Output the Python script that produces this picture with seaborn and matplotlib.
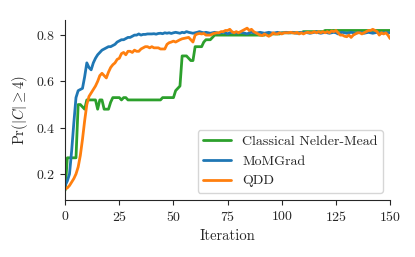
import numpy as np
import pandas as pd
import matplotlib
matplotlib.use('Agg')
import matplotlib.pyplot as plt
import seaborn as sns

iterations = list(range(151))

nelder_mead = (
    [0.13, 0.27, 0.27, 0.27, 0.27, 0.27, 0.50, 0.50, 0.49, 0.48]
    + [0.52, 0.52, 0.52, 0.52, 0.52, 0.48, 0.52, 0.52, 0.48, 0.48]
    + [0.48, 0.51, 0.53, 0.53, 0.53, 0.53, 0.52, 0.53, 0.53, 0.52]
    + [0.52, 0.52, 0.52, 0.52, 0.52, 0.52, 0.52, 0.52, 0.52, 0.52]
    + [0.52, 0.52, 0.52, 0.52, 0.52, 0.53, 0.53, 0.53, 0.53, 0.53]
    + [0.53, 0.56, 0.57, 0.58, 0.71, 0.71, 0.71, 0.70, 0.69, 0.69]
    + [0.75, 0.75, 0.75, 0.75, 0.77, 0.78, 0.78, 0.78, 0.79, 0.80]
    + [0.80, 0.80, 0.80, 0.80, 0.80, 0.80, 0.80, 0.80, 0.80, 0.80]
    + [0.80, 0.80, 0.80, 0.80, 0.80, 0.80, 0.80, 0.80, 0.80, 0.80]
    + [0.80, 0.80, 0.80, 0.805, 0.805, 0.805, 0.805, 0.805, 0.805, 0.805]
    + [0.81, 0.81, 0.81, 0.81, 0.81, 0.81, 0.81, 0.81, 0.81, 0.81]
    + [0.815, 0.815, 0.815, 0.815, 0.815, 0.815, 0.815, 0.815, 0.815, 0.815]
    + [0.82, 0.82, 0.82, 0.82, 0.82, 0.82, 0.82, 0.82, 0.82, 0.82]
    + [0.82, 0.82, 0.82, 0.82, 0.82, 0.82, 0.82, 0.82, 0.82, 0.82]
    + [0.82, 0.82, 0.82, 0.82, 0.82, 0.82, 0.82, 0.82, 0.82, 0.82]
    + [0.82]
)

momgrad = (
    [0.15, 0.17, 0.20, 0.30, 0.42, 0.53, 0.56, 0.565, 0.57, 0.62]
    + [0.68, 0.66, 0.65, 0.68, 0.70, 0.715, 0.725, 0.735, 0.74, 0.745]
    + [0.75, 0.75, 0.755, 0.76, 0.77, 0.775, 0.78, 0.78, 0.785, 0.79]
    + [0.79, 0.795, 0.80, 0.80, 0.805, 0.80, 0.803, 0.803, 0.805, 0.805]
    + [0.805, 0.806, 0.804, 0.807, 0.808, 0.806, 0.81, 0.808, 0.81, 0.807]
    + [0.81, 0.812, 0.81, 0.808, 0.812, 0.81, 0.815, 0.812, 0.81, 0.808]
    + [0.81, 0.812, 0.815, 0.812, 0.81, 0.812, 0.81, 0.808, 0.81, 0.812]
    + [0.81, 0.808, 0.81, 0.812, 0.81, 0.805, 0.81, 0.812, 0.81, 0.808]
    + [0.81, 0.812, 0.81, 0.808, 0.805, 0.81, 0.812, 0.81, 0.808, 0.81]
    + [0.812, 0.81, 0.808, 0.81, 0.812, 0.81, 0.808, 0.81, 0.812, 0.81]
    + [0.808, 0.81, 0.812, 0.81, 0.81, 0.812, 0.81, 0.808, 0.81, 0.812]
    + [0.81, 0.812, 0.81, 0.808, 0.81, 0.812, 0.815, 0.81, 0.808, 0.81]
    + [0.812, 0.81, 0.808, 0.81, 0.812, 0.81, 0.805, 0.81, 0.812, 0.81]
    + [0.808, 0.81, 0.812, 0.81, 0.808, 0.81, 0.812, 0.81, 0.808, 0.81]
    + [0.812, 0.81, 0.808, 0.81, 0.812, 0.81, 0.808, 0.81, 0.812, 0.81]
    + [0.81]
)

qdd = (
    [0.135, 0.14, 0.15, 0.165, 0.18, 0.20, 0.23, 0.28, 0.35, 0.43]
    + [0.50, 0.535, 0.55, 0.565, 0.58, 0.60, 0.625, 0.635, 0.625, 0.615]
    + [0.64, 0.66, 0.672, 0.68, 0.695, 0.70, 0.72, 0.725, 0.715, 0.73]
    + [0.73, 0.725, 0.735, 0.73, 0.73, 0.74, 0.745, 0.75, 0.75, 0.745]
    + [0.75, 0.745, 0.745, 0.745, 0.74, 0.74, 0.74, 0.76, 0.767, 0.77]
    + [0.774, 0.77, 0.775, 0.78, 0.784, 0.786, 0.788, 0.79, 0.78, 0.77]
    + [0.80, 0.805, 0.807, 0.805, 0.807, 0.80, 0.80, 0.80, 0.805, 0.808]
    + [0.81, 0.81, 0.815, 0.815, 0.82, 0.82, 0.825, 0.815, 0.81, 0.815]
    + [0.81, 0.815, 0.82, 0.825, 0.83, 0.82, 0.825, 0.815, 0.81, 0.805]
    + [0.80, 0.798, 0.805, 0.80, 0.795, 0.80, 0.81, 0.805, 0.805, 0.81]
    + [0.805, 0.81, 0.81, 0.81, 0.812, 0.81, 0.808, 0.812, 0.805, 0.81]
    + [0.805, 0.81, 0.812, 0.81, 0.81, 0.815, 0.81, 0.815, 0.81, 0.815]
    + [0.81, 0.815, 0.81, 0.818, 0.815, 0.82, 0.81, 0.80, 0.80, 0.795]
    + [0.793, 0.80, 0.79, 0.80, 0.805, 0.81, 0.81, 0.805, 0.81, 0.815]
    + [0.82, 0.82, 0.825, 0.82, 0.815, 0.80, 0.81, 0.805, 0.81, 0.80]
    + [0.785]
)

labels = ['Classical Nelder-Mead', 'MoMGrad', 'QDD']
colors = ['#2ca02c', '#1f77b4', '#ff7f0e']

df = pd.DataFrame({
    'Iteration': iterations * 3,
    'value': nelder_mead + momgrad + qdd,
    'method': [labels[0]] * 151 + [labels[1]] * 151 + [labels[2]] * 151,
})

sns.set_theme(style='ticks')
plt.rcParams['font.family'] = 'serif'
plt.rcParams['font.serif'] = ['cmr10']
plt.rcParams['mathtext.fontset'] = 'cm'
plt.rcParams['axes.formatter.use_mathtext'] = True

fig = plt.figure(figsize=(4.15, 2.57), dpi=100)
ax = fig.add_axes([0.157, 0.222, 0.783, 0.700])
sns.lineplot(data=df, x='Iteration', y='value', hue='method',
             palette=colors, linewidth=2, ax=ax)
ax.set_xlim(0, 150)
ax.set_ylim(0.088, 0.865)
ax.set_xticks([0, 25, 50, 75, 100, 125, 150])
ax.set_yticks([0.2, 0.4, 0.6, 0.8])
ax.set_xlabel('Iteration', fontsize=10.5)
ax.set_ylabel(r'$\mathrm{Pr}(|C| \geq 4)$', fontsize=10.5)
ax.tick_params(labelsize=10, width=0.8, length=3.5)
for s in ax.spines.values():
    s.set_linewidth(0.8)
sns.despine(ax=ax)
ax.legend(loc='lower right', fontsize=10, frameon=True)
fig.savefig('out.png', dpi=100)
